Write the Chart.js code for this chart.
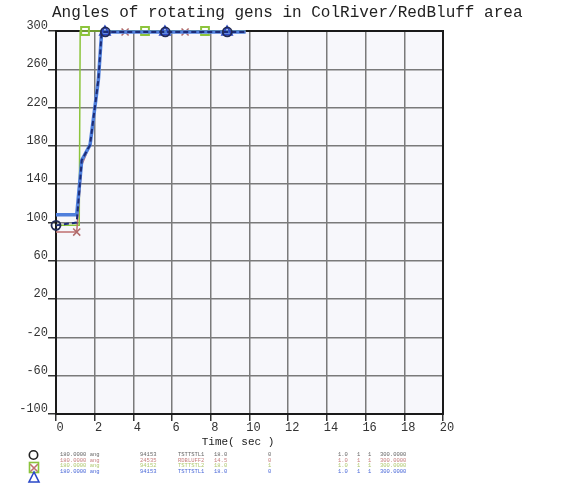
<!DOCTYPE html>
<html>
<head>
<meta charset="utf-8">
<script src="https://cdn.jsdelivr.net/npm/chart.js@4/dist/chart.umd.min.js"></script>
<style>
html,body{margin:0;padding:0;background:#fff;}
#wrap{width:571px;height:502px;position:relative;}
</style>
</head>
<body>
<div id="wrap"><canvas id="c" width="571" height="502"></canvas></div>
<script>
// ---- data ----
const chartTitle = "Angles of rotating gens in ColRiver/RedBluff area";
const xTitle = "Time( sec )";
const yTickValues = [300, 260, 220, 180, 140, 100, 60, 20, -20, -60, -100];

// black series (circle markers)
const blackT = [0, 1.07, 1.33, 1.76, 2.19, 2.36, 2.55, 5.65, 8.85, 9.8];
const blackV = [97, 100, 165, 181, 249, 299, 299, 299, 299, 299];
const blackMarks = [0, 2.55, 5.65, 8.85];

// red series (x markers)
const redT = [0, 1.07, 1.33, 1.76, 2.19, 2.36, 3.57, 6.67, 9.8];
const redV = [90, 90, 160, 181, 249, 299, 299, 299, 299];
const redMarks = [1.07, 3.57, 6.67];

// green series (square markers)
const greenT = [0, 1.2, 1.25, 1.5, 4.6, 7.7, 9.8];
const greenV = [97, 97, 300, 300, 300, 300, 300];
const greenMarks = [1.5, 4.6, 7.7];

// blue series (triangle markers)
const blueT = [0, 1.07, 1.33, 1.76, 2.19, 2.36, 2.53, 5.63, 8.84, 9.8];
const blueV = [108, 108, 165, 181, 249, 299, 299, 299, 299, 299];
const blueMarks = [2.53, 5.63, 8.84];

// legend rows (small channel table under the plot)
const legendRows = [
  ["180.0000 ang", "94153", "TSTTSTL1", "18.0", "0", "1.0", "1", "1", "300.0000"],
  ["180.0000 ang", "24535", "RDBLUFF2", "14.5", "0", "1.0", "1", "1", "300.0000"],
  ["180.0000 ang", "94152", "TSTTSTL2", "18.0", "1", "1.0", "1", "1", "300.0000"],
  ["180.0000 ang", "94153", "TSTTSTL1", "18.0", "0", "1.0", "1", "1", "300.0000"]
];

// ---- build ----
function pts(t, v){ return t.map((x,i)=>({x:x, y:v[i]})); }
function markR(t, marks, r){ return ctx => marks.includes(t[ctx.dataIndex]) ? r : 0; }

const datasets = [
  {label:"green", data:pts(greenT, greenV), borderColor:"#8cc43c", borderWidth:1.5,
   pointStyle:"rect", pointRadius:markR(greenT, greenMarks, 5.5), pointBorderColor:"#8cc43c",
   pointBackgroundColor:"rgba(255,255,255,0)", pointBorderWidth:2, clip:false, order:4},
  {label:"red", data:pts(redT, redV), borderColor:"#c07070", borderWidth:1.5,
   pointStyle:"crossRot", pointRadius:markR(redT, redMarks, 5), pointBorderColor:"#b06a6a",
   pointBorderWidth:1.5, clip:false, order:3},
  {label:"blue", data:pts(blueT, blueV), borderColor:"#4f7fdc", borderWidth:3.5,
   pointStyle:"triangle", pointRadius:markR(blueT, blueMarks, 5.5), pointBorderColor:"#2a48c8",
   pointBackgroundColor:"rgba(255,255,255,0)", pointBorderWidth:2, clip:false, order:2},
  {label:"black", data:pts(blackT, blackV), borderColor:"#1c2c78", borderWidth:2, borderDash:[5,3],
   pointStyle:"circle", pointRadius:markR(blackT, blackMarks, 4.5), pointBorderColor:"#222a55",
   pointBackgroundColor:"rgba(255,255,255,0)", pointBorderWidth:1.8, clip:false, order:1}
];

const deco = {
  id:"deco",
  beforeDraw(chart){
    const c = chart.ctx, a = chart.chartArea;
    c.save();
    c.fillStyle = "#f7f7fb";
    c.fillRect(a.left, a.top, a.right-a.left, a.bottom-a.top);
    c.restore();
  },
  beforeDatasetsDraw(chart){
    const c = chart.ctx, a = chart.chartArea;
    c.save();
    c.strokeStyle = "#1a1a1a"; c.lineWidth = 2;
    c.strokeRect(a.left, a.top, a.right-a.left, a.bottom-a.top);
    c.restore();
  },
  afterDraw(chart){
    const c = chart.ctx;
    c.save();
    c.fillStyle = "#222";
    c.font = "16px 'Liberation Mono', monospace";
    c.textAlign = "left"; c.textBaseline = "alphabetic";
    c.fillText(chartTitle, 52, 17);
    c.font = "11px 'Liberation Mono', monospace";
    c.textAlign = "center"; c.textBaseline = "middle";
    c.fillText(xTitle, 238, 442);
    // legend icons
    c.lineWidth = 1.6;
    c.strokeStyle = "#c07070";
    c.beginPath(); c.moveTo(30,464); c.lineTo(38,472); c.moveTo(38,464); c.lineTo(30,472); c.stroke();
    c.strokeStyle = "#8cc43c";
    c.strokeRect(29.5, 462.5, 9, 10);
    c.strokeStyle = "#222";
    c.beginPath(); c.arc(33.5, 455, 4.2, 0, Math.PI*2); c.stroke();
    c.strokeStyle = "#2a48c8";
    c.beginPath(); c.moveTo(34,472); c.lineTo(29,482); c.lineTo(39,482); c.closePath(); c.stroke();
    // legend rows
    const cols = [60, 140, 178, 214, 268, 338, 357, 368, 380];
    const colors = ["#666", "#c88080", "#b0c870", "#4a68d8"];
    c.font = "5.5px 'Liberation Mono', monospace";
    c.textAlign = "left"; c.textBaseline = "middle";
    legendRows.forEach((row, r) => {
      c.fillStyle = colors[r];
      row.forEach((txt, k) => c.fillText(txt, cols[k], 455 + r*5.5));
    });
    c.restore();
  }
};

new Chart(document.getElementById("c"), {
  type:"line",
  data:{datasets},
  options:{
    responsive:false, animation:false,
    layout:{padding:{left:0, right:128, top:31, bottom:48}},
    plugins:{legend:{display:false}, title:{display:false}, tooltip:{enabled:false}},
    elements:{line:{tension:0}},
    scales:{
      x:{type:"linear", min:0, max:20,
         ticks:{stepSize:2, color:"#333", padding:0, labelOffset:4, maxRotation:0,
                font:{family:"'Liberation Mono', monospace", size:12}},
         grid:{color:"#7a7a7a", lineWidth:1.5, tickLength:7, tickColor:"#333"},
         border:{color:"#1a1a1a", width:2},
         afterFit(s){ s.height = 40; }},
      y:{type:"linear", min:-100, max:300,
         afterBuildTicks(s){ s.ticks = yTickValues.map(v=>({value:v})); },
         ticks:{color:"#333", padding:0, labelOffset:-5,
                font:{family:"'Liberation Mono', monospace", size:12}},
         grid:{color:"#7a7a7a", lineWidth:1.5, tickLength:8, tickColor:"#333"},
         border:{color:"#1a1a1a", width:2},
         afterFit(s){ s.width = 56; }}
    }
  },
  plugins:[deco]
});
</script>
</body>
</html>
